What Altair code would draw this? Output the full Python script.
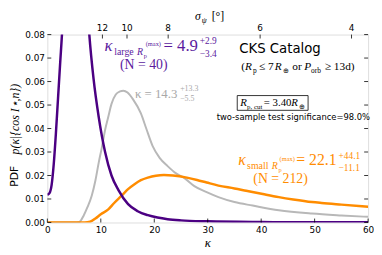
import altair as alt
import pandas as pd

# ---------------- data ----------------
large_kappa = [0, 0.4, 0.8, 1.2, 1.6, 2.0, 2.4, 2.8, 3.5, 4.2, 5.0, 5.8, 6.7, 7.85, 8.65,
               9.6, 10.8, 12.0, 13.3, 15.1, 16.9, 18.8, 20.6, 22.5, 25, 30, 40, 50, 60]
large_pdf = [0.0118, 0.0125, 0.016, 0.025, 0.038, 0.053, 0.068, 0.083, 0.13, 0.165, 0.18,
             0.165, 0.125, 0.080, 0.061, 0.045, 0.030, 0.020, 0.0138, 0.0078, 0.0048,
             0.0031, 0.0021, 0.0014, 0.0009, 0.0005, 0.0002, 0.0001, 0.0001]

all_kappa = [0, 3, 5.5, 6.0, 6.8, 7.5, 8.3, 9.0, 9.6, 10.2, 10.8, 11.4, 12.0, 12.8, 13.6,
             14.2, 15.0, 16.0, 17.5, 18.5, 19.7, 21, 22.5, 24, 25.7, 27.5, 29.8, 32, 35,
             38.4, 43.3, 49.5, 55, 60]
all_pdf = [0, 0, 0, 0.0002, 0.003, 0.0065, 0.0114, 0.018, 0.0254, 0.032, 0.0394, 0.045,
           0.0505, 0.0545, 0.0558, 0.0561, 0.0553, 0.0525, 0.0464, 0.040, 0.0325, 0.0275,
           0.024, 0.021, 0.0188, 0.0155, 0.0129, 0.0108, 0.0087, 0.0072, 0.0052, 0.0038,
           0.003, 0.0024]

small_kappa = [0, 7, 8, 9, 10, 11.4, 12.5, 13.9, 15.1, 16.3, 17.5, 18.8, 20.3, 21.8, 23.5,
               26.1, 28, 29.8, 32, 35, 37.2, 40.3, 43.3, 46, 49.5, 51.3, 55, 60]
small_pdf = [0, 0, 0.0003, 0.0017, 0.0035, 0.0056, 0.0083, 0.0114, 0.0142, 0.0163, 0.018,
             0.0191, 0.0199, 0.0202, 0.0200, 0.0191, 0.0181, 0.0170, 0.0157, 0.0145, 0.0135,
             0.0121, 0.0108, 0.0098, 0.0087, 0.0083, 0.0076, 0.0067]

x_ticks = [0, 10, 20, 30, 40, 50, 60]
y_ticks = [0.00, 0.01, 0.02, 0.03, 0.04, 0.05, 0.06, 0.07, 0.08]
top_kappa = [10.3, 14.9, 22.6, 39.8, 56.9]
top_labels = ["12", "10", "8", "6", "4"]

# ---------------- layout ----------------
W, H = 326, 191
X0, Y0 = 48, 33          # plot origin in page pixels
PURPLE = "#4B0082"
PURPLE_T = "#5B1A9E"
ORANGE = "#FF8C00"
GRAY = "#B8B8B8"
GRAY_T = "#A8A8A8"
SERIF = "Liberation Serif"
SANS = "DejaVu Sans"

xs = alt.Scale(domain=[0, 60], nice=False, zero=False)
ys = alt.Scale(domain=[0, 0.08], nice=False, zero=False)
XAX = alt.Axis(values=x_ticks, title=None, ticks=False, labelFontSize=9, labelFont=SANS,
               labelColor="black", labelPadding=3, domain=False, grid=False, labelFlush=False)
YAX = alt.Axis(values=y_ticks, title=None, ticks=False, format=".2f", labelFontSize=9,
               labelFont=SANS, labelColor="black", labelPadding=3, domain=False, grid=False,
               labelFlush=False)

def curve(k, p, color, width):
    df = pd.DataFrame({"k": k, "p": p})
    return alt.Chart(df).mark_line(color=color, strokeWidth=width, clip=True,
                                   interpolate="monotone").encode(
        x=alt.X("k:Q", scale=xs, axis=XAX),
        y=alt.Y("p:Q", scale=ys, axis=YAX))

one = pd.DataFrame({"a": [0]})

def T(text, x, y, size, color="black", font=SERIF, style="normal", align="left",
      angle=0, weight="normal"):
    return alt.Chart(one).mark_text(text=text, fontSize=size, font=font, fontStyle=style,
                                    fontWeight=weight, color=color, align=align,
                                    baseline="alphabetic", angle=angle).encode(
        x=alt.value(x - X0), y=alt.value(y - Y0))

# inward tick marks
ydf = pd.DataFrame({"p": y_ticks})
xdf = pd.DataFrame({"k": x_ticks})
tdf = pd.DataFrame({"k": top_kappa, "lab": top_labels})
tick_l = alt.Chart(ydf).mark_rule(color="black", strokeWidth=0.8).encode(
    y=alt.Y("p:Q", scale=ys, axis=YAX), x=alt.value(0), x2=alt.value(4))
tick_r = alt.Chart(ydf).mark_rule(color="black", strokeWidth=0.8).encode(
    y=alt.Y("p:Q", scale=ys, axis=YAX), x=alt.value(W - 4), x2=alt.value(W))
tick_b = alt.Chart(xdf).mark_rule(color="black", strokeWidth=0.8).encode(
    x=alt.X("k:Q", scale=xs, axis=XAX), y=alt.value(H - 4), y2=alt.value(H))
tick_t = alt.Chart(tdf).mark_rule(color="black", strokeWidth=0.8).encode(
    x=alt.X("k:Q", scale=xs, axis=XAX), y=alt.value(0), y2=alt.value(4))
top_lab = alt.Chart(tdf).mark_text(fontSize=9, font=SANS, color="black",
                                   baseline="alphabetic").encode(
    x=alt.X("k:Q", scale=xs, axis=XAX), y=alt.value(-4), text="lab:N")

# annotation box
box = alt.Chart(one).mark_rect(fill="white", stroke="black", strokeWidth=0.8).encode(
    x=alt.value(241 - X0), x2=alt.value(313 - X0), y=alt.value(95 - Y0), y2=alt.value(110 - Y0))

texts = [
    # axis titles
    T("PDF", 18, 177, 11, font=SANS, angle=270, align="center"),
    T("p(κ|{cos I⋆,n})", 19, 119, 12, style="italic", angle=270, align="center"),
    T("κ", 211, 249, 13, style="italic", align="center"),
    T("σ", 198, 18, 12, style="italic"),
    T("ψ", 205, 21, 8, style="italic"),
    T("[°]", 215, 18, 12),
    # purple annotation
    T("κ", 106, 50, 17, PURPLE_T, style="italic"),
    T("large", 116, 54, 10, PURPLE_T),
    T("R", 139, 54, 10, PURPLE_T, style="italic"),
    T("p", 146, 57, 6.5, PURPLE_T),
    T("(max)", 148, 45, 6.5, PURPLE_T),
    T("= 4.9", 166, 50, 17, PURPLE_T),
    T("+2.9", 203, 43, 9.5, PURPLE_T),
    T("−3.4", 203, 56, 9.5, PURPLE_T),
    T("(N = 40)", 146, 68, 14, PURPLE_T, align="center"),
    # gray annotation
    T("κ = 14.3", 137, 97, 13, GRAY_T),
    T("+13.3", 183, 90, 8, GRAY_T),
    T("−5.5", 183, 101, 8, GRAY_T),
    # CKS text
    T("CKS Catalog", 243, 52, 13.5, font=SANS),
    T("(", 245, 69, 11.5),
    T("R", 249, 69, 11.5, style="italic"),
    T("p", 257, 72, 7.5),
    T("≤ 7", 263, 69, 11.5),
    T("R", 279, 69, 11.5, style="italic"),
    T("⊕", 287, 72, 7.5),
    T("or", 297, 69, 11.5),
    T("P", 309, 69, 11.5, style="italic"),
    T("orb", 316, 72, 7.5),
    T("≥ 13d)", 330, 69, 11.5),
    T("R", 244, 106, 11, style="italic"),
    T("p, cut", 251, 109, 7),
    T("= 3.40", 268, 106, 11),
    T("R", 296, 106, 11, style="italic"),
    T("⊕", 304, 109, 7),
    T("two-sample test significance=98.0%", 298, 120, 8.5, font=SANS, align="center"),
    # orange annotation
    T("κ", 242, 166, 16, ORANGE, style="italic"),
    T("small", 251, 170, 10, ORANGE),
    T("R", 276, 170, 10, ORANGE, style="italic"),
    T("p", 283, 173, 6.5, ORANGE),
    T("(max)", 284, 161, 6.5, ORANGE),
    T("= 22.1", 301, 166, 16, ORANGE),
    T("+44.1", 344, 159, 9.5, ORANGE),
    T("−11.1", 344, 172, 9.5, ORANGE),
    T("(N = 212)", 285, 184, 14, ORANGE, align="center"),
]

chart = alt.layer(
    curve(all_kappa, all_pdf, GRAY, 2),
    curve(small_kappa, small_pdf, ORANGE, 2.5),
    curve(large_kappa, large_pdf, PURPLE, 2.5),
    tick_l, tick_r, tick_b, tick_t, top_lab, box, *texts,
).properties(
    width=W, height=H,
    autosize=alt.AutoSizeParams(type="none"),
    padding={"left": 40, "top": 25, "right": 6, "bottom": 28},
).configure_view(stroke="black", strokeWidth=1.2).configure(background="white")

chart.save("out.html", embed_options={"renderer": "svg", "actions": False})
